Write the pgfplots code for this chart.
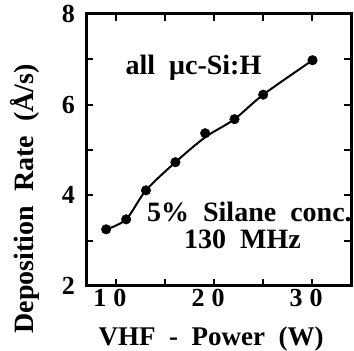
\documentclass[border=0pt]{standalone}
\usepackage{pgfplots}
\pgfplotsset{compat=1.18}
\usepackage{fontspec}
\setmainfont{Liberation Serif}
\begin{document}
\begin{tikzpicture}
\begin{axis}[
  name=ax,
  scale only axis, width=265pt, height=272pt,
  xmin=7, xmax=34, ymin=2, ymax=8,
  separate axis lines,
  every outer x axis line/.append style={line width=3pt, line cap=rect},
  every outer y axis line/.append style={line width=3pt, line cap=rect},
  xtick={10,20,30}, xticklabels={1\hspace{7pt}0,2\hspace{7pt}0,3\hspace{7pt}0},
  minor xtick={15,25},
  ytick={2,4,6,8}, yticklabels={2,4,6,8},
  minor ytick={3,5,7},
  tick align=inside, major tick length=7pt, minor tick length=7pt,
  tick style={line width=2pt, black},
  ticklabel style={font=\fontsize{26}{26}\selectfont\bfseries},
  xticklabel style={xshift=-6pt},
  yticklabel style={xshift=-8pt},
  xlabel={VHF\ \ -\ \ Power\ \ (W)},
  ylabel={Deposition\ \ Rate\ \ (Å/s)},
  xlabel style={font=\fontsize{27}{27}\selectfont\bfseries, at={(axis description cs:0.47,-0.195)}, anchor=center},
  ylabel style={font=\fontsize{28}{28}\selectfont\bfseries, at={(axis description cs:-0.234,0.321)}, anchor=center},
]
\addplot[black, line width=2pt, smooth] coordinates {
  (9.0,3.25) (11.04,3.47) (13.06,4.11) (16.06,4.73) (19.09,5.28) (22.08,5.68) (25.0,6.22) (30.03,6.98)
};
\addplot[black, only marks, mark=*, mark size=4.8pt] coordinates {
  (9.0,3.25) (11.04,3.47) (13.06,4.11) (16.06,4.73) (19.09,5.37) (22.08,5.68) (25.0,6.22) (30.03,6.98)
};
\node[font=\fontsize{28}{28}\selectfont\bfseries] at (axis cs:17.9,6.82) {all\ \ μc-Si:H};
\node[font=\fontsize{28}{28}\selectfont\bfseries] at (axis cs:23.6,3.63) {5\%\ \ Silane\ \ conc.};
\node[font=\fontsize{28}{28}\selectfont\bfseries] at (axis cs:22.9,3.03) {130\ \ MHz};
\end{axis}
\pgfresetboundingbox
\path[use as bounding box] ([shift={(-86.5pt,-65pt)}]ax.south west) rectangle ([shift={(2.5pt,14pt)}]ax.north east);
\end{tikzpicture}
\end{document}
